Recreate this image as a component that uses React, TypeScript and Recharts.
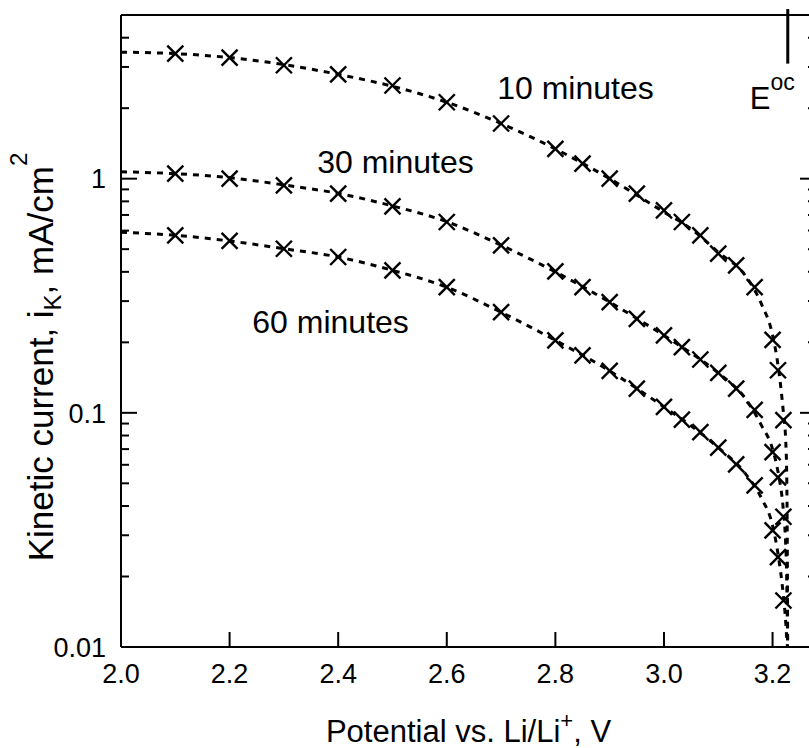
import React from 'react';
import {
  ComposedChart, Line, Scatter, XAxis, YAxis, ReferenceLine, ReferenceDot,
} from 'recharts';

const FONT = '"Liberation Sans", Arial, Helvetica, sans-serif';

// fitted curves (dotted), potential vs Li/Li+ in V, current in mA/cm2
const FIT_E = [2.0, 2.1, 2.2, 2.3, 2.4, 2.5, 2.6, 2.7, 2.8, 2.9, 3.0, 3.05, 3.1, 3.15, 3.18, 3.2, 3.21, 3.22, 3.224, 3.226, 3.2272, 3.2278];
const FIT_10 = [3.47, 3.42, 3.29, 3.07, 2.79, 2.48, 2.12, 1.72, 1.34, 1.0, 0.72, 0.61, 0.485, 0.385, 0.29, 0.215, 0.16, 0.1, 0.078, 0.055, 0.025, 0.01];
const FIT_30 = [1.07, 1.05, 1.01, 0.94, 0.865, 0.765, 0.655, 0.52, 0.4, 0.297, 0.214, 0.18, 0.148, 0.115, 0.088, 0.07, 0.056, 0.038, 0.028, 0.02, 0.013, 0.01];
const FIT_60 = [0.59, 0.573, 0.542, 0.502, 0.463, 0.406, 0.344, 0.269, 0.204, 0.151, 0.106, 0.088, 0.071, 0.055, 0.043, 0.033, 0.025, 0.0165, 0.013, 0.011, 0.0102, 0.01];

// measured points (crosses)
const MARK_E = [2.1, 2.2, 2.3, 2.4, 2.5, 2.6, 2.7, 2.8, 2.85, 2.9, 2.95, 3.0, 3.033, 3.067, 3.1, 3.133, 3.167, 3.2, 3.21, 3.22];
const MARK_10 = [3.42, 3.29, 3.05, 2.79, 2.5, 2.12, 1.72, 1.34, 1.16, 1.0, 0.863, 0.732, 0.653, 0.573, 0.479, 0.426, 0.344, 0.205, 0.152, 0.093];
const MARK_30 = [1.05, 1.0, 0.936, 0.863, 0.762, 0.653, 0.519, 0.402, 0.344, 0.297, 0.252, 0.214, 0.191, 0.169, 0.148, 0.127, 0.103, 0.068, 0.053, 0.036];
const MARK_60 = [0.573, 0.542, 0.502, 0.463, 0.406, 0.344, 0.269, 0.204, 0.176, 0.151, 0.127, 0.106, 0.0935, 0.0828, 0.071, 0.0603, 0.049, 0.0315, 0.0242, 0.0158];

const X_TICKS = [2.0, 2.2, 2.4, 2.6, 2.8, 3.0, 3.2];
const Y_MAJOR = [0.01, 0.1, 1];
const Y_MINOR = [0.02, 0.03, 0.04, 0.05, 0.06, 0.07, 0.08, 0.09, 0.2, 0.3, 0.4, 0.5, 0.6, 0.7, 0.8, 0.9, 2, 3, 4, 5];
const X_DOMAIN = [2.0, 3.28];
const Y_DOMAIN = [0.01, 5];

const E_OC = 3.228;
const CURVE_LABELS = [
  { text: '10 minutes', E: 2.837, i: 2.44 },
  { text: '30 minutes', E: 2.5055, i: 1.186 },
  { text: '60 minutes', E: 2.386, i: 0.245 },
];

const rows = (xs: number[], ys: number[]) => xs.map((E, k) => ({ E, i: ys[k] }));

const Cross = (props: any) => {
  const { cx, cy } = props;
  if (cx == null || cy == null) return null;
  const s = 8;
  return (
    <g stroke="#000" strokeWidth={2.4}>
      <line x1={cx - s} y1={cy - s} x2={cx + s} y2={cy + s} />
      <line x1={cx - s} y1={cy + s} x2={cx + s} y2={cy - s} />
    </g>
  );
};

const BottomTick = ({ x, y, payload }: any) => (
  <g>
    <line x1={x} x2={x} y1={y} y2={y - 15} stroke="#000" strokeWidth={2} />
    <text x={x} y={y + 36} textAnchor="middle" fontSize={27} fontFamily={FONT} fill="#000">
      {Number(payload.value).toFixed(1)}
    </text>
  </g>
);

const TopTick = ({ x, y }: any) => (
  <line x1={x} x2={x} y1={y} y2={y + 15} stroke="#000" strokeWidth={2} />
);

const LeftTick = ({ x, y, payload }: any) => {
  const major = Y_MAJOR.includes(payload.value);
  return (
    <g>
      <line x1={x} x2={x + (major ? 16 : 8)} y1={y} y2={y} stroke="#000" strokeWidth={2} />
      {major && (
        <text x={x - 15} y={y} dy="0.36em" textAnchor="end" fontSize={27} fontFamily={FONT} fill="#000">
          {String(payload.value)}
        </text>
      )}
    </g>
  );
};

const RightTick = ({ x, y, payload }: any) => {
  const major = Y_MAJOR.includes(payload.value);
  return <line x1={x} x2={x - (major ? 16 : 8)} y1={y} y2={y} stroke="#000" strokeWidth={2} />;
};

const textLabel = (text: string) => (p: any) => {
  const vb = p.viewBox || {};
  const cx = vb.x + (vb.width || 0) / 2;
  const cy = vb.y + (vb.height || 0) / 2;
  return (
    <text x={cx} y={cy} dy="0.36em" textAnchor="middle" fontSize={32} fontFamily={FONT} fill="#000">
      {text}
    </text>
  );
};

const EocLabel = (p: any) => {
  const vb = p.viewBox || {};
  const x = vb.x + (vb.width || 0) / 2;
  const y = vb.y + (vb.height || 0) / 2;
  return (
    <text x={x - 38} y={y + 45} fontSize={31} fontFamily={FONT} fill="#000">
      E<tspan dy={-19} fontSize={23}>oc</tspan>
    </text>
  );
};

const XTitle = (p: any) => {
  const vb = p.viewBox || {};
  return (
    <text x={vb.x + vb.width / 2} y={vb.y + 95} textAnchor="middle" fontSize={31} fontFamily={FONT} fill="#000">
      Potential vs. Li/Li<tspan dy={-14} fontSize={22}>+</tspan><tspan dy={14}>, V</tspan>
    </text>
  );
};

const YTitle = () => (
  <text transform="translate(53, 357) rotate(-90)" textAnchor="middle" fontSize={35} fontFamily={FONT} fill="#000">
    Kinetic current, i<tspan dy={8} fontSize={24}>K</tspan>
    <tspan dy={-8}>, mA/cm</tspan>
    <tspan dy={-26} fontSize={24}>2</tspan>
  </text>
);

export default function App() {
  const axisLine = { stroke: '#000', strokeWidth: 2 };
  const allY = [...Y_MAJOR, ...Y_MINOR];
  const fits = [FIT_10, FIT_30, FIT_60];
  const marks = [MARK_10, MARK_30, MARK_60];

  return (
    <div style={{ position: 'fixed', left: 0, top: 0, width: 809, height: 748, overflow: 'hidden', background: '#fff' }}>
      <ComposedChart width={830} height={748} margin={{ top: 14, right: 13, bottom: 0, left: 0 }}>
        <XAxis
          xAxisId="b" dataKey="E" type="number" domain={X_DOMAIN} ticks={X_TICKS} interval={0}
          allowDataOverflow height={101} axisLine={axisLine} tickLine={false} tickSize={0} tickMargin={0}
          tick={<BottomTick />} label={<XTitle />}
        />
        <XAxis
          xAxisId="t" orientation="top" type="number" domain={X_DOMAIN} ticks={X_TICKS} interval={0}
          allowDataOverflow height={1} axisLine={axisLine} tickLine={false} tickSize={0} tickMargin={0}
          tick={<TopTick />}
        />
        <YAxis
          yAxisId="l" dataKey="i" scale="log" type="number" domain={Y_DOMAIN} ticks={allY} interval={0}
          allowDataOverflow width={121} axisLine={axisLine} tickLine={false} tickSize={0} tickMargin={0}
          tick={<LeftTick />} label={<YTitle />}
        />
        <YAxis
          yAxisId="r" orientation="right" scale="log" type="number" domain={Y_DOMAIN} ticks={allY} interval={0}
          allowDataOverflow width={1} axisLine={axisLine} tickLine={false} tickSize={0} tickMargin={0}
          tick={<RightTick />}
        />

        {fits.map((f, k) => (
          <Line
            key={`fit${k}`} xAxisId="b" yAxisId="l" data={rows(FIT_E, f)} dataKey="i" type="monotone"
            stroke="#000" strokeWidth={3} strokeDasharray="6 6" dot={false} activeDot={false}
            isAnimationActive={false}
          />
        ))}
        {marks.map((m, k) => (
          <Scatter
            key={`mark${k}`} xAxisId="b" yAxisId="l" data={rows(MARK_E, m)} dataKey="i"
            shape={(p: any) => <Cross {...p} />} isAnimationActive={false}
          />
        ))}

        <ReferenceLine
          xAxisId="b" yAxisId="l" segment={[{ x: E_OC, y: 3.1 }, { x: E_OC, y: 5.3 }]}
          ifOverflow="visible" stroke="#000" strokeWidth={3}
        />
        <ReferenceDot
          xAxisId="b" yAxisId="l" x={E_OC} y={3.1} r={1} fill="none" stroke="none" label={EocLabel}
        />
        {CURVE_LABELS.map((c) => (
          <ReferenceDot
            key={c.text} xAxisId="b" yAxisId="l" x={c.E} y={c.i} r={1} fill="none" stroke="none"
            label={textLabel(c.text)}
          />
        ))}
      </ComposedChart>
    </div>
  );
}
